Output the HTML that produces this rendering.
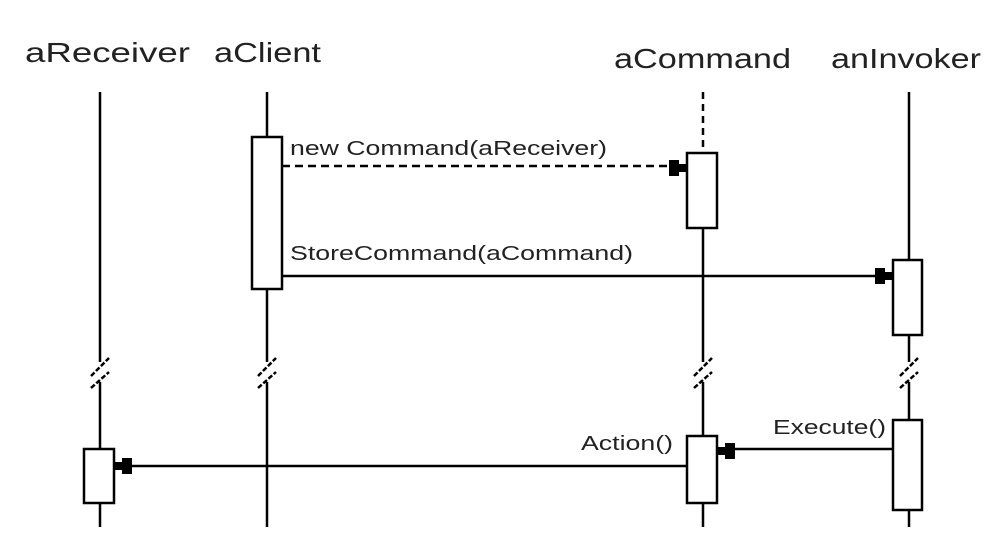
<!DOCTYPE html>
<html><head><meta charset="utf-8"><style>
html,body{margin:0;padding:0;background:#fff;}
svg{display:block;}
text{font-family:"Liberation Sans",sans-serif;fill:#222;}
</style></head><body>
<svg width="1004" height="558" viewBox="0 0 1004 558" xmlns="http://www.w3.org/2000/svg">
<defs>
<g id="ar"><polygon points="0,-4 -8,-4 -8,-8 -18,-8 -18,8 -8,8 -8,4 0,4" fill="#000"/></g>
<g id="brk" stroke="#000" stroke-width="2.5" fill="none">
<line x1="-9" y1="388" x2="9" y2="372" stroke-dasharray="5 2"/>
<line x1="-9" y1="376" x2="9" y2="358" stroke-dasharray="5 2"/>
</g>
</defs>
<g font-size="28">
<text x="25" y="62" textLength="165" lengthAdjust="spacingAndGlyphs">aReceiver</text>
<text x="214" y="62" textLength="107" lengthAdjust="spacingAndGlyphs">aClient</text>
<text x="614" y="68" textLength="177" lengthAdjust="spacingAndGlyphs">aCommand</text>
<text x="831" y="68" textLength="150" lengthAdjust="spacingAndGlyphs">anInvoker</text>
</g>
<g stroke="#000" stroke-width="2.5" fill="none">
<line x1="100" y1="92" x2="100" y2="362"/><line x1="100" y1="382" x2="100" y2="527"/>
<line x1="267" y1="92" x2="267" y2="362"/><line x1="267" y1="382" x2="267" y2="527"/>
<line x1="703" y1="92" x2="703" y2="152" stroke-dasharray="7 5"/>
<line x1="703" y1="228" x2="703" y2="362"/><line x1="703" y1="382" x2="703" y2="527"/>
<line x1="909" y1="92" x2="909" y2="362"/><line x1="909" y1="382" x2="909" y2="527"/>
</g>
<g fill="#fff">
<rect x="95" y="362" width="10" height="20"/><rect x="262" y="362" width="10" height="20"/>
<rect x="698" y="362" width="10" height="20"/><rect x="904" y="362" width="10" height="20"/>
</g>
<use href="#brk" x="100"/><use href="#brk" x="267"/><use href="#brk" x="703"/><use href="#brk" x="909"/>
<g stroke="#000" stroke-width="2.5">
<line x1="282" y1="166" x2="670" y2="166" stroke-dasharray="8 5"/>
<line x1="282" y1="276" x2="876" y2="276"/>
<line x1="893" y1="449" x2="734" y2="449"/>
<line x1="687" y1="466" x2="130" y2="466"/>
</g>
<g stroke="#000" stroke-width="2.5" fill="#fff">
<rect x="252" y="137" width="30" height="152"/>
<rect x="687" y="153" width="30" height="75"/>
<rect x="893" y="260" width="29" height="75"/>
<rect x="687" y="436" width="30" height="67"/>
<rect x="893" y="420" width="29" height="90"/>
<rect x="84" y="449" width="30" height="54"/>
</g>
<use href="#ar" x="687" y="168"/>
<use href="#ar" x="893" y="276"/>
<g transform="translate(717,451) scale(-1,1)"><use href="#ar"/></g>
<g transform="translate(114,466) scale(-1,1)"><use href="#ar"/></g>
<g font-size="20">
<text x="290" y="155" textLength="317" lengthAdjust="spacingAndGlyphs">new Command(aReceiver)</text>
<text x="290" y="260" textLength="343" lengthAdjust="spacingAndGlyphs">StoreCommand(aCommand)</text>
<text x="581" y="450" textLength="92" lengthAdjust="spacingAndGlyphs">Action()</text>
<text x="773" y="434" textLength="113" lengthAdjust="spacingAndGlyphs">Execute()</text>
</g>
</svg>
</body></html>
